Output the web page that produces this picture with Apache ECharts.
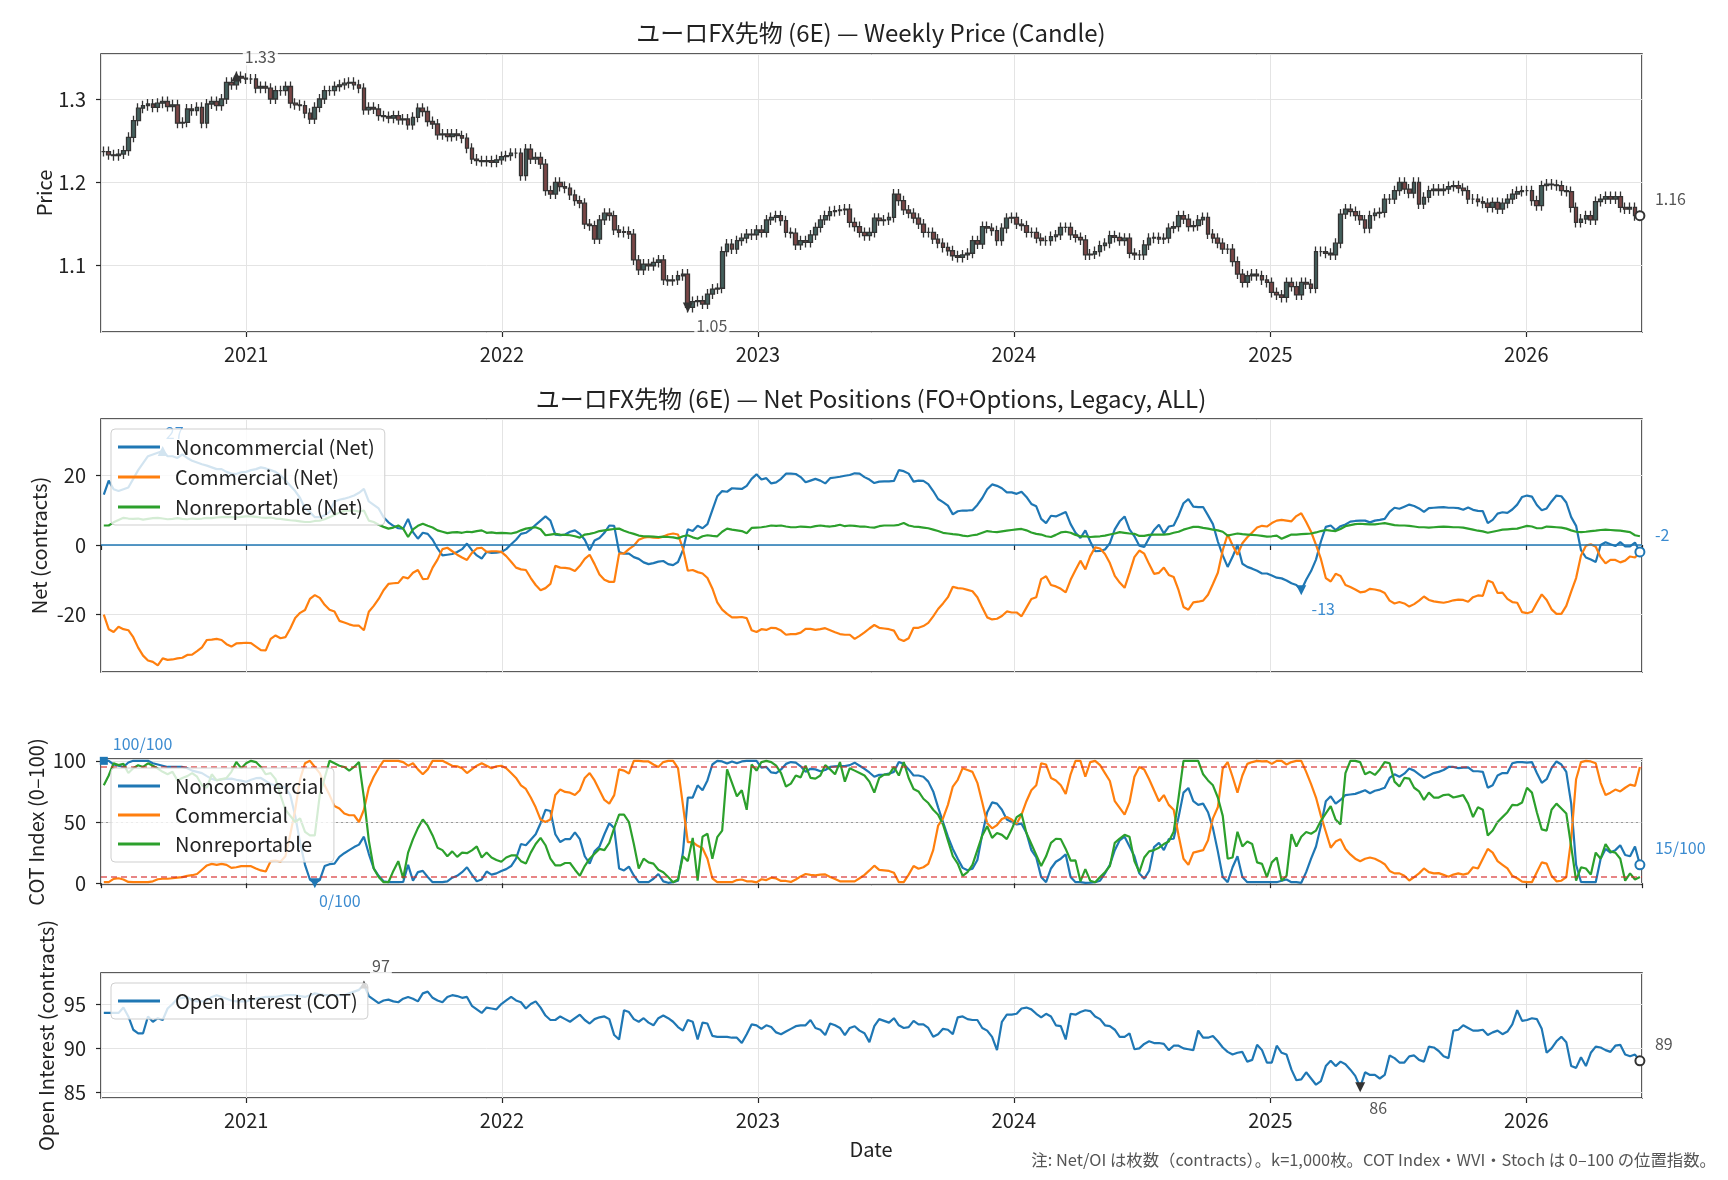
<!DOCTYPE html>
<html>
<head>
<meta charset="utf-8">
<title>ユーロFX先物 (6E)</title>
<script src="https://cdn.jsdelivr.net/npm/echarts@6/dist/echarts.min.js"></script>
<style>
  html, body { margin: 0; padding: 0; background: #fff; }
  #chart { width: 1728px; height: 1180px; }
</style>
</head>
<body>
<div id="chart"></div>
<script>
// weekly data, one value per week starting at firstWeek
const firstWeek = '2020-06-12'

const priceClose = [
  1.237, 1.233, 1.232, 1.234, 1.238, 1.254, 1.274, 1.289, 1.292, 1.294,
  1.290, 1.295, 1.297, 1.291, 1.293, 1.271, 1.272, 1.288, 1.286, 1.290,
  1.271, 1.294, 1.297, 1.292, 1.300, 1.320, 1.317, 1.327, 1.325, 1.324,
  1.324, 1.313, 1.315, 1.313, 1.300, 1.310, 1.310, 1.315, 1.295, 1.293,
  1.292, 1.283, 1.276, 1.290, 1.300, 1.310, 1.310, 1.315, 1.317, 1.319,
  1.320, 1.317, 1.313, 1.287, 1.290, 1.288, 1.280, 1.279, 1.277, 1.280,
  1.275, 1.276, 1.269, 1.278, 1.289, 1.285, 1.273, 1.270, 1.257, 1.258,
  1.255, 1.258, 1.256, 1.253, 1.241, 1.228, 1.226, 1.225, 1.226, 1.224,
  1.227, 1.231, 1.232, 1.235, 1.235, 1.208, 1.240, 1.228, 1.230, 1.222,
  1.190, 1.186, 1.200, 1.195, 1.193, 1.185, 1.178, 1.175, 1.150, 1.148,
  1.132, 1.155, 1.163, 1.160, 1.143, 1.140, 1.141, 1.138, 1.107, 1.095,
  1.102, 1.100, 1.104, 1.107, 1.083, 1.082, 1.083, 1.088, 1.090, 1.050,
  1.057, 1.058, 1.054, 1.066, 1.072, 1.073, 1.117, 1.126, 1.120, 1.130,
  1.133, 1.138, 1.137, 1.143, 1.140, 1.155, 1.158, 1.160, 1.154, 1.140,
  1.139, 1.125, 1.130, 1.128, 1.137, 1.146, 1.155, 1.160, 1.165, 1.166,
  1.167, 1.168, 1.152, 1.147, 1.140, 1.136, 1.140, 1.157, 1.154, 1.155,
  1.158, 1.186, 1.178, 1.167, 1.163, 1.157, 1.150, 1.140, 1.140, 1.132,
  1.127, 1.122, 1.118, 1.112, 1.110, 1.113, 1.115, 1.130, 1.126, 1.147,
  1.145, 1.142, 1.130, 1.145, 1.157, 1.158, 1.150, 1.148, 1.140, 1.140,
  1.133, 1.130, 1.130, 1.135, 1.137, 1.146, 1.146, 1.137, 1.134, 1.131,
  1.113, 1.114, 1.117, 1.124, 1.127, 1.136, 1.134, 1.130, 1.133, 1.115,
  1.113, 1.113, 1.125, 1.133, 1.134, 1.132, 1.133, 1.145, 1.147, 1.160,
  1.156, 1.147, 1.148, 1.155, 1.158, 1.138, 1.133, 1.127, 1.120, 1.120,
  1.105, 1.090, 1.080, 1.088, 1.090, 1.088, 1.083, 1.080, 1.068, 1.065,
  1.062, 1.080, 1.075, 1.065, 1.080, 1.078, 1.073, 1.117, 1.117, 1.115,
  1.113, 1.127, 1.162, 1.168, 1.165, 1.160, 1.155, 1.145, 1.160, 1.163,
  1.164, 1.180, 1.180, 1.190, 1.200, 1.192, 1.187, 1.200, 1.174, 1.182,
  1.190, 1.192, 1.190, 1.192, 1.195, 1.196, 1.193, 1.190, 1.180, 1.180,
  1.177, 1.175, 1.170, 1.176, 1.168, 1.175, 1.180, 1.186, 1.189, 1.190,
  1.190, 1.178, 1.172, 1.196, 1.198, 1.197, 1.196, 1.190, 1.189, 1.170,
  1.152, 1.156, 1.160, 1.155, 1.177, 1.180, 1.183, 1.180, 1.183, 1.170,
  1.168, 1.170, 1.160, 1.160
]

const netNoncommercial = [
  14.5, 18.5, 16, 15.5, 16, 16.5, 19, 21.5, 23.5, 25.5,
  26, 26.5, 27, 25.5, 25.5, 25, 26, 25, 24.2, 23.7,
  23.2, 22.8, 22.3, 21.8, 21.8, 21, 20.5, 20.4, 20.9, 21,
  21.5, 21.8, 22.3, 22, 21.5, 21, 20, 18.5, 17, 15.5,
  13.5, 10.5, 9.5, 8, 8, 8.5, 9.5, 12.5, 13, 13.3,
  13.7, 14.2, 15, 16.1, 12.5, 11.5, 10.5, 8, 6.5, 5.5,
  4.8, 4.7, 7.5, 3.7, 1.8, 3.5, 3.2, 1.5, -1, -3,
  -2.8, -2.6, -2, -1.2, 0.4, -1.5, -3, -3.9, -2, -2.3,
  -2.2, -2, -1.2, 0.2, 1.5, 3.2, 3.5, 4.5, 5.8, 7,
  8.2, 7, 3, 2.8, 3, 3.8, 4.2, 3.2, 1.5, -1.5,
  1.3, 2, 3.5, 5.6, 5.5, -2, -2.5, -2.5, -3.5, -4,
  -5, -5.5, -5.2, -4.8, -4.6, -5.5, -5.8, -4.9, -1.5, 4.5,
  4, 5.5, 4.8, 6, 10, 14, 15.5, 15.3, 16.3, 16.2,
  16.1, 17, 19, 20.3, 18.8, 19.2, 17.7, 18, 19, 20.5,
  20.5, 20.4, 19.5, 18, 18.5, 19, 18.5, 17.7, 19.2, 19.4,
  19.6, 19.9, 20.1, 20.6, 20.5, 19.5, 18.8, 17.8, 18.2, 18.3,
  18.3, 18.4, 21.5, 21.2, 20.5, 18.2, 18.5, 18.4, 17.5, 15.5,
  13.2, 12.3, 11.3, 8.8, 9.7, 9.9, 9.9, 10, 11.5, 13.5,
  16, 17.4, 17, 16.3, 15.1, 15.1, 14.7, 15.3, 13.8, 11.8,
  11.1, 7.5, 6.3, 8.4, 8.2, 8.8, 9.5, 6, 3.5, 2,
  4.2, 1, -1.8, -1.7, -1.3, 0.5, 4.5, 6.8, 8.2, 4.5,
  2.5, -0.2, -0.6, 2, 4.3, 5.8, 3.3, 5.3, 5.6, 8.5,
  12, 13.2, 11, 10.9, 10.9, 8.5, 6, 1, -3, -6.3,
  -3.4, 0, -5.4, -6.3, -6.8, -7.4, -8.2, -8.2, -8.8, -9.4,
  -9.6, -10.2, -11, -11.5, -13, -10, -7.5, -4.2, 1, 5.2,
  5.6, 4.3, 5.4, 5.9, 6.7, 6.9, 7, 7, 6.5, 7,
  7.2, 7.5, 9.5, 10.7, 10.4, 11, 11.6, 11.2, 10.5, 9.5,
  10.6, 10.7, 10.8, 10.9, 10.7, 10.7, 10.6, 10.1, 10.8, 10.1,
  9.8, 9.7, 6.3, 7.2, 9, 9.4, 9.2, 10.2, 11.6, 13.8,
  14.2, 13.9, 11.5, 10, 10.5, 12.5, 14.2, 14, 12.2, 8,
  5.5, -1.5, -3.6, -4.2, -4.9, 0, 0.8, 0.2, -0.3, 0.8,
  -0.4, -0.4, 0.7, -2
]

const netCommercial = [
  -20, -24.2, -25, -23.5, -24.2, -24.5, -26.5, -29.5, -31.8, -33.2,
  -33.6, -34.6, -32.6, -33, -32.9, -32.6, -32.4, -31.6, -31.5, -30.5,
  -29.4, -27.3, -27.2, -27, -27.3, -28.5, -29.2, -28.3, -28.2, -28.1,
  -28.2, -29.2, -30.2, -30.3, -27, -26, -26.8, -26.5, -24, -21,
  -19.5, -18.7, -15.5, -14.4, -15.2, -17.2, -18.6, -19.1, -21.8, -22.3,
  -22.8, -23.2, -23.2, -24.5, -19.2, -17.5, -15.5, -13, -11.2, -11,
  -10.9, -9.2, -9.6, -8, -7.2, -9.8, -9.7, -6.5, -4.2, -1.2,
  -0.8, -1.8, -2.8, -3.6, -4.3, -2.3, -1, -0.8, -2, -1.8,
  -1.8, -2, -3.2, -4.8, -6.5, -7, -7.2, -9.5, -11.5, -13,
  -12.4, -11.2, -6, -6.5, -6.6, -6.8, -7.5, -6, -4, -2.8,
  -5.5, -8.5, -10, -10.6, -10.6, -2.5, -2.4, -1.2, -0.2, 1.5,
  2.1, 2.3, 2.1, 2, 2.4, 3, 3.3, 3, -1, -7.4,
  -7.2, -7.8, -8.2, -9.5, -12.5, -16.5, -18.6, -19.8, -20.8, -20.8,
  -20.7, -21, -24.5, -25, -24.2, -24.4, -23.8, -23.9, -24.6, -25.8,
  -25.6, -25.6, -25.2, -24.1, -24.1, -24.4, -24.2, -23.9, -24.5, -25.1,
  -25.6, -25.8, -25.8, -27, -26.1, -25.1, -24, -23, -23.8, -24,
  -24.2, -24.6, -27, -27.6, -26.8, -23.8, -23.8, -23.3, -22.4, -20.5,
  -18.4, -16.8, -15, -12, -12.4, -12.5, -12.9, -13.3, -15, -18,
  -20.8, -21.4, -21.2, -20.4, -19.1, -19.4, -19.4, -20.5, -18, -15.5,
  -15, -9.8, -9, -11.5, -11.9, -12.6, -13.6, -10, -7.2, -4.5,
  -7, -3.2, -0.7, -1, -2.6, -5.2, -8.9, -10.8, -12.3, -8,
  -3.5, -1.6, -2.5, -5.5, -8.3, -8, -6.5, -8.6, -9.2, -13,
  -17.8, -18.6, -16.5, -16.3, -16, -14.3, -11.2, -8, -1.5, 3,
  -0.1, -2.8, 0.5, 2.2, 3.6, 5, 5.5, 5.3, 6.3, 7,
  7.2, 7, 6.8, 8.3, 9.1, 6.6, 3.8, 0, -4, -9.5,
  -10.5, -8.3, -8.9, -11.5, -12.1, -12.8, -13.6, -13.4, -12.6, -12.8,
  -13.1, -13.8, -16, -16.8, -16.4, -16.8, -17.7, -17, -16, -14.8,
  -15.8, -16.2, -16.4, -16.6, -16.3, -15.9, -15.7, -15.8, -16.3, -15,
  -14.5, -14.6, -10.2, -10.8, -13.8, -13.7, -15.5, -16.4, -16.6, -19.3,
  -19.6, -19.2, -16.6, -14.2, -15.8, -18.5, -19.8, -19.8, -17.5, -13.4,
  -9.5, -3, -0.2, 0.2, -0.5, -3.5, -5.3, -4.3, -4.3, -5,
  -4.5, -3.3, -3.6, -2
]

const netNonreportable = [
  5.6, 5.6, 6.5, 7.2, 7.8, 7.6, 7.5, 7.6, 7.3, 7.5,
  7.7, 7.8, 7.6, 7.4, 7.5, 7.7, 7.5, 7.4, 7.6, 7.5,
  7.6, 7.8, 7.7, 7.9, 8, 8.1, 8, 7.9, 8.1, 8.2,
  8.2, 8.1, 7.9, 7.8, 7.9, 7.6, 7.5, 7.3, 7.1, 7,
  6.8, 6.6, 6.6, 6.9, 7, 7.4, 8, 8.6, 9.3, 9.8,
  9.9, 9.9, 9.6, 9.9, 7, 6.6, 5.8, 5.2, 4.7, 5,
  5.6, 4.7, 2.3, 4.5, 5.5, 6.1, 5.5, 5, 4.2, 3.8,
  3.4, 3.6, 3.7, 3.5, 3.8, 3.7, 4, 4.2, 3.5, 3.6,
  3.4, 3.5, 3.4, 3.3, 3.6, 4.2, 4.7, 4.9, 5.1, 4.5,
  2.8, 3, 3.2, 3, 2.9, 2.8, 2.5, 2.1, 3, 3.2,
  3.5, 4, 4.2, 4.4, 4.6, 4.7, 4.1, 3.6, 3.2, 2.7,
  2.5, 2.5, 2.4, 2.3, 2.4, 2.3, 2.2, 1.9, 2.5, 2.8,
  2.2, 1.8, 2.5, 2.8, 2.6, 2.5, 3.8, 4.7, 4.4, 4.2,
  4, 3.4, 4.9, 5, 5.1, 5.3, 5.6, 5.5, 5.6, 5.3,
  5.1, 5.1, 5.3, 5.2, 5.1, 5.4, 5.6, 5.4, 5.3, 5.5,
  5.8, 5.4, 5.6, 5.5, 5.3, 5.3, 5.1, 5, 5.4, 5.6,
  5.6, 5.6, 5.8, 6.3, 5.6, 5.3, 5.2, 5, 4.8, 4.4,
  4, 3.5, 3.3, 3.1, 3, 2.7, 2.5, 2.8, 3, 3.5,
  4, 3.8, 3.7, 3.9, 4.1, 4.3, 4.5, 4.6, 4.2, 3.6,
  3.2, 3, 2.5, 2.3, 2.9, 3.6, 3.8, 3.5, 2.9, 2.5,
  2.5, 2.3, 2.4, 2.5, 2.7, 3, 3.3, 3.7, 3.5, 3.3,
  3.2, 2.6, 2.6, 2.9, 3, 3, 3, 3.1, 3.5, 3.8,
  4.4, 4.8, 5.2, 5.2, 4.9, 4.7, 4.4, 4.2, 3.8, 2.7,
  3, 3.3, 3.1, 3, 2.9, 2.8, 2.6, 2.4, 2.5, 2.7,
  1.8, 2.4, 3, 3, 3.1, 3.2, 3.3, 3.6, 4, 4.3,
  4.1, 4, 4.6, 5.4, 5.7, 6, 6.1, 6, 5.9, 5.9,
  6.1, 6.3, 6, 5.7, 5.6, 5.6, 5.5, 5.3, 5.1, 5.1,
  5, 5.1, 5.2, 5.3, 5.2, 5.1, 5.1, 5, 4.7, 4.4,
  4.1, 3.9, 3.5, 3.8, 4.1, 4.4, 4.5, 4.6, 4.7, 5.1,
  5.5, 5.3, 4.8, 4.8, 5.3, 5.2, 5.1, 5, 4.7, 4.2,
  3.8, 3.7, 3.8, 4, 4.1, 4.3, 4.4, 4.3, 4.2, 4.1,
  3.9, 3.7, 2.8, 2.5
]

const cotNoncommercial = [
  100, 100, 97, 96, 95, 98.6, 100, 100, 100, 100,
  98, 97, 96, 95, 95, 95, 95, 94, 92, 91,
  90, 87.5, 85.2, 84.2, 84.8, 85.2, 85.5, 84.5, 83.8, 82.8,
  84.5, 85.8, 86, 83.5, 81, 80, 79.5, 78, 72, 55,
  33, 15, 3, 0, 2.5, 14, 15.5, 16, 21.5, 24.5,
  27, 29.5, 31.5, 38, 24, 12, 6, 1.5, 0.8, 0.8,
  0.8, 1, 15, 2, 9, 10, 5, 0.8, 0.8, 0.8,
  1.5, 4.5, 6, 9, 13, 7, 1.5, 3, 9.5, 7,
  8, 10, 11.5, 14, 20, 32, 31, 35.5, 40, 49,
  60, 59, 40, 33.6, 36, 36, 41.5, 36, 22, 16,
  26, 30, 40, 49, 45, 12, 10.4, 13.5, 6.3, 0.8,
  0.8, 0.8, 3.6, 7.5, 1.5, 0.3, 0.8, 2, 25, 70,
  70, 80, 76, 84, 97, 100, 99.5, 97.8, 99.5, 98,
  99.5, 100, 100, 100, 94.5, 95, 90.5, 90, 93, 97.5,
  99, 98.5, 95.5, 91, 93.5, 93, 91.5, 92.5, 95, 95.5,
  95.7, 95.7, 96.5, 98.5, 96, 93.5, 90.5, 87, 88.5, 88.8,
  89.5, 91, 99, 97.5, 93, 88, 88, 87, 83, 75,
  62, 50, 38, 28, 20, 12.5, 10.5, 11.8, 19, 40,
  58, 66, 65, 60, 52, 50, 48, 48.6, 41, 27,
  21, 5, 0.8, 12, 17.5, 20, 23.5, 5, 0.8, 0.8,
  0.3, 0.5, 0.8, 2, 8, 15, 27, 35, 38, 30,
  22, 8, 3.6, 10, 29.5, 33, 27, 36, 36.3, 54,
  74, 77.8, 67, 64, 65, 58, 45, 26, 5, 0.8,
  13, 22, 5, 0.8, 0.8, 0.8, 0.8, 0.8, 0.8, 0.8,
  2, 3, 0.8, 0.8, 0.3, 9, 20, 30, 47, 67,
  71, 65, 68, 72, 72.5, 73, 74.4, 75.9, 73.5, 75.5,
  76.5, 78, 86, 89, 87, 89.5, 93.7, 92, 89, 86,
  88, 90, 91, 92.5, 95, 95, 94, 94.5, 94.7, 91.5,
  91.5, 91, 78, 80, 88, 90, 90, 98, 99, 99,
  98.5, 99, 90, 82, 85, 94, 99.5, 97, 91, 65,
  15, 1, 0.8, 0.8, 0.8, 20, 28, 25, 27, 31,
  23, 22, 30, 15
]

const cotCommercial = [
  0.8, 0.8, 3.5, 4, 3, 1, 0.8, 0.8, 0.8, 0.8,
  1.5, 3.2, 3.6, 3.6, 4, 4.5, 4.9, 6, 6.5, 7.5,
  11, 14.5, 15.8, 15, 15.8, 15, 12.5, 13, 13.9, 13.9,
  13.9, 12, 10.4, 9.5, 18, 18.5, 17.5, 22, 40, 60,
  85, 98, 100, 95, 90, 80, 72, 63, 61, 57,
  55.5, 55.5, 50, 60, 78, 87, 94, 100, 100, 100,
  100, 99, 96, 98, 93, 89, 93, 100, 100, 100,
  98, 96, 95.5, 94, 90, 93, 96, 98, 96, 94,
  95.5, 96, 94, 90, 86, 80, 77, 70, 62, 52,
  50, 52, 72, 76.5, 74.6, 74, 72, 76, 86, 90,
  84, 76, 68, 65, 72, 93, 92, 89.6, 100, 100,
  99.5, 99.5, 97, 95, 99, 100, 100, 94, 64, 33.6,
  33.6, 30.5, 28.5, 20, 4, 0.8, 0.8, 0.8, 0.8, 2.5,
  3, 1.5, 1.5, 0.6, 3.2, 2.5, 4.5, 3.8, 1.8, 1.8,
  1, 3, 5.5, 7.5, 6.8, 6.3, 7, 7.2, 5, 3.4,
  1.5, 1.5, 1.5, 1.5, 4, 6.8, 10.4, 14.3, 10.8, 10.4,
  10, 8.5, 0.8, 0.8, 7, 14, 11.8, 13, 15.8, 27,
  47, 53, 64, 79, 84.5, 94, 92.5, 91, 82, 66,
  49, 44.8, 47.5, 52.5, 54, 52, 48.5, 56, 67, 76,
  80, 98, 97, 86, 84, 80, 73, 89, 100, 100,
  87, 99, 100, 96.5, 90, 83.5, 67, 61.5, 56, 66,
  87, 95, 93, 85, 76, 67, 72, 64, 60, 39,
  20, 15, 25, 26, 27, 35, 53, 62, 93.7, 99,
  87, 74, 88, 97.5, 99, 100, 99.5, 99.8, 97.5, 100,
  100, 97, 99, 100, 100, 91, 81, 70, 55, 42,
  29, 34, 36, 28, 23.5, 20, 18, 20, 21, 20,
  18, 15.5, 10, 8, 8, 6, 2.2, 5, 8, 12,
  9, 8, 8.2, 6.8, 5.2, 7, 8, 7, 8, 13,
  12, 20, 28, 25, 18, 15, 12, 6, 4, 1.2,
  0.8, 0.8, 9, 17, 16, 6, 1.5, 2, 5, 36,
  85, 99, 100, 99.5, 98, 82, 72, 74, 76.5, 75,
  78, 80.5, 79.5, 95
]

const cotNonreportable = [
  80, 88, 98, 96.5, 97.5, 90, 94, 96.4, 95, 98,
  96, 93.7, 91, 89, 91, 84, 86, 87.5, 90, 87,
  80, 78, 89, 84, 85, 86, 91, 99, 94, 98,
  100, 99, 95, 89, 90, 85, 72, 60, 55, 50,
  53, 42, 39, 39, 72, 86, 100, 98, 96, 95,
  92, 95, 99, 70, 35, 12, 5, 0.8, 0.8, 10,
  18, 4, 25, 36, 45, 52, 47, 39, 29, 27,
  22, 26, 21.5, 25, 24.5, 26.8, 30, 21, 25, 21,
  19, 17.5, 21, 22.7, 22.7, 18, 16, 25, 32, 37,
  31, 20, 14.5, 14.5, 16.5, 16.5, 11, 6, 14, 20,
  24, 28, 27, 33, 45, 56, 56, 50, 32, 12,
  20, 17, 16, 11, 9, 5, 0.8, 3, 22, 18,
  37, 2, 38, 40.4, 20, 37.6, 43, 93, 82, 71,
  76, 60, 97, 92, 99, 100, 99, 96, 90, 79,
  81.4, 88, 86.5, 96, 86, 85.5, 88, 96.5, 93, 89,
  99, 83, 94, 92, 90, 88, 83, 74, 86, 88.8,
  88.8, 95, 88, 99, 86, 77, 75, 69, 65.5, 60,
  56, 48, 35, 22, 16, 6, 9, 15, 27, 39,
  46.5, 37, 41, 39.5, 36, 44, 54, 56.5, 41, 32,
  23, 14, 22, 33, 36.3, 36, 28, 18.5, 18.6, 1.5,
  11.5, 2, 0.8, 5, 9, 14, 33, 36.5, 39.5, 38,
  18, 9, 21, 26, 27, 29, 32, 34, 42, 70,
  100, 100, 100, 100, 89, 84, 80, 70, 55, 20,
  21, 42, 30, 34, 32, 17, 15.8, 5, 17, 21,
  2, 6, 40, 30, 38, 41.8, 40.4, 43, 51, 57,
  63, 52, 48, 90, 100, 100, 99, 89, 91, 88.5,
  93, 99, 98, 83, 79, 86, 85.5, 78, 75, 68,
  74, 70, 70, 72, 72.5, 70, 71, 72, 65, 54,
  62, 60, 39, 43, 50, 54, 58, 64, 63.7, 66,
  78, 74, 58, 44, 43, 60, 65, 61, 57, 30,
  2, 13, 12, 7, 25, 20, 32, 26, 25, 20,
  2, 8, 3, 5
]

const openInterest = [
  94, 94, 94, 94, 94.6, 93.6, 92.1, 91.7, 91.7, 93.6,
  93, 93.4, 93.2, 94.5, 95, 95.6, 95.7, 95.8, 95.4, 95.3,
  95.3, 95.4, 95.8, 96, 95.8, 95.6, 95.4, 95.3, 95.3, 95.3,
  95.5, 95.6, 95.7, 95.8, 95.8, 95.8, 95.9, 96, 96, 96,
  95.9, 95.8, 96, 96.2, 96.1, 96, 96, 96, 96, 96,
  96.2, 96.4, 96.6, 97.2, 95.9, 95.5, 95.1, 95.4, 95.5, 95.3,
  95.2, 95.6, 95.8, 95.6, 95.3, 96.2, 96.4, 95.7, 95.4, 95.2,
  95.8, 96, 95.9, 95.7, 95.8, 94.8, 94.4, 94, 94.6, 94.5,
  94.4, 95, 95.4, 95.8, 95.4, 95.2, 94.5, 95, 95.3, 94.6,
  93.7, 93.2, 93.2, 93.6, 93.3, 93, 93.4, 93.8, 93.2, 92.8,
  93.3, 93.5, 93.6, 93.3, 91.5, 91, 94.3, 94.1, 93.3, 93,
  93.4, 92.9, 92.6, 93.4, 93.7, 93.4, 93, 92.4, 92, 93.2,
  93, 91, 92.9, 92.8, 91.4, 91.3, 91.3, 91.3, 91.2, 91.2,
  90.6, 91.6, 92.7, 92.6, 92.2, 92.6, 92.4, 91.8, 91.6, 91.9,
  92.2, 92.5, 92.6, 92.6, 93.2, 92.3, 92.1, 91.5, 92.8, 92.6,
  92.3, 91.5, 92.3, 92.5, 92, 91.7, 90.7, 92.5, 93.3, 93.1,
  92.9, 93.4, 92.6, 92.3, 92.4, 93.1, 92.7, 92.7, 92.3, 91.3,
  91.6, 92.2, 92.1, 91.6, 93.5, 93.6, 93.3, 93.2, 93.2, 92.3,
  92, 91.3, 89.8, 93, 93.8, 93.8, 93.9, 94.5, 94.6, 94.4,
  93.9, 93.5, 93.9, 93.6, 92.6, 92.5, 91, 93.9, 93.8, 94.1,
  94.3, 94.2, 93.6, 93.3, 92.6, 92.5, 92.1, 91.3, 91.3, 91.7,
  89.9, 90, 90.5, 90.8, 90.6, 90.6, 90.5, 89.8, 90.3, 90.3,
  90, 89.9, 89.8, 92, 91.2, 91.2, 91.4, 90.8, 90.1, 89.6,
  89.3, 89.5, 89.6, 88.5, 88.7, 90.4, 89.8, 88.4, 88.4, 90.3,
  89.5, 89.3, 87.6, 86.4, 86.5, 87.3, 86.6, 85.9, 86.3, 88,
  88.6, 88, 88.5, 88.2, 87.6, 86.9, 85.6, 87.3, 87, 87,
  86.6, 87, 89.2, 88.9, 88.4, 88.4, 89.1, 89.2, 88.7, 88.5,
  90.2, 90.1, 89.7, 89.1, 88.9, 92, 92.1, 92.6, 92.3, 92,
  92, 92.1, 91.5, 91.8, 92, 91.6, 91.9, 92.7, 94.3, 93.1,
  93.2, 93.4, 93.3, 92.2, 89.5, 90, 90.8, 91.3, 90.7, 88,
  87.8, 89, 88, 89.5, 90.2, 90.1, 89.8, 89.6, 90.3, 90.4,
  89.3, 89.1, 89.3, 88.6
]

const footnote = '注: Net/OI は枚数（contracts）。k=1,000枚。COT Index・WVI・Stoch は 0–100 の位置指数。'

const series8 = [priceClose, netNoncommercial, netCommercial, netNonreportable,
  cotNoncommercial, cotCommercial, cotNonreportable, openInterest]
series8.forEach((a, k) => {
  if (a.length !== priceClose.length) throw new Error('length mismatch in array ' + k + ': ' + a.length)
})

const FONT = '"Noto Sans CJK JP", "Noto Sans", sans-serif'
const BLUE = '#1f77b4', ORANGE = '#ff7f0e', GREEN = '#2ca02c'
const DAY = 86400000
const t0 = Date.parse(firstWeek + 'T00:00:00Z')
const weeks = priceClose.map((_, i) => t0 + i * 7 * DAY)
const xMin = Date.UTC(2020, 5, 8), xMax = Date.UTC(2026, 5, 15)

const pairs = arr => weeks.map((t, i) => [t, arr[i]])

// candles: open is the previous week's close
const wick = 0.006
const candles = priceClose.map((c, i) => {
  const o = i === 0 ? c : priceClose[i - 1]
  return [weeks[i], o, c, Math.min(o, c) - wick, Math.max(o, c) + wick]
})

function argExt(arr, useMax) {
  let k = 0
  arr.forEach((v, i) => { if (useMax ? v > arr[k] : v < arr[k]) k = i })
  return k
}

function tag(arr, i, text, opt) {
  return {
    coord: [weeks[i], arr[i]],
    symbol: opt.symbol || 'triangle',
    symbolSize: opt.size || 10,
    symbolRotate: opt.rotate || 0,
    itemStyle: Object.assign({ color: opt.color }, opt.item || {}),
    label: {
      show: true, position: 'inside', formatter: text,
      offset: opt.offset, align: opt.align || 'center', verticalAlign: 'middle',
      color: opt.textColor, fontSize: 16, fontFamily: FONT,
      backgroundColor: opt.bg || 'transparent', padding: [1, 2]
    }
  }
}

function lastTag(arr, text, color, textColor) {
  const i = arr.length - 1
  return tag(arr, i, text, {
    symbol: 'emptyCircle', size: 9, color: color,
    item: { borderColor: color, borderWidth: 1.8 },
    offset: [13, -17], align: 'left', textColor: textColor
  })
}

const iMaxP = argExt(priceClose, true), iMinP = argExt(priceClose, false)
const iMaxN = argExt(netNoncommercial, true), iMinN = argExt(netNoncommercial, false)
const iMaxC = argExt(cotNoncommercial, true), iMinC = argExt(cotNoncommercial, false)
const iMaxO = argExt(openInterest, true), iMinO = argExt(openInterest, false)

const grids = [
  { top: 54, height: 278 },
  { top: 419, height: 253 },
  { top: 759, height: 126 },
  { top: 973, height: 125 }
].map(g => Object.assign({
  left: 101, right: 86, show: true, borderColor: '#262626', borderWidth: 1.5,
  backgroundColor: 'transparent'
}, g))

function xAxisFor(i, showLabel) {
  return {
    type: 'time', gridIndex: i, min: xMin, max: xMax,
    splitNumber: 6, minInterval: 365 * DAY, maxInterval: 366 * DAY,
    axisLine: { show: false },
    axisTick: { show: true, length: 5, lineStyle: { color: '#262626', width: 1.2 } },
    axisLabel: {
      show: showLabel, formatter: '{yyyy}', fontSize: 20, color: '#222', margin: 12,
      fontFamily: FONT, showMinLabel: false, showMaxLabel: false
    },
    splitLine: { show: true, lineStyle: { color: '#e4e4e4', width: 1 } }
  }
}

function yAxisFor(i, name, min, max, split, gap) {
  return {
    type: 'value', gridIndex: i, min: min, max: max, splitNumber: split,
    name: name, nameLocation: 'middle', nameRotate: 90, nameGap: gap,
    nameMoveOverlap: false,
    nameTextStyle: { fontSize: 20, color: '#222', fontFamily: FONT },
    axisLine: { show: false },
    axisTick: { show: true, length: 5, lineStyle: { color: '#262626', width: 1.2 } },
    axisLabel: {
      fontSize: 20, color: '#222', margin: 15, fontFamily: FONT,
      showMinLabel: false, showMaxLabel: false
    },
    splitLine: { show: true, lineStyle: { color: '#e4e4e4', width: 1 } }
  }
}

function lineSeries(name, arr, color, gi, extra) {
  return Object.assign({
    name: name, type: 'line', xAxisIndex: gi, yAxisIndex: gi,
    data: pairs(arr), showSymbol: false, symbol: 'none',
    lineStyle: { color: color, width: 2.2 }, itemStyle: { color: color },
    animation: false
  }, extra || {})
}

function legendAt(top, names, gap, padTop) {
  return {
    z: 10,
    orient: 'vertical', left: 111, top: top, data: names,
    icon: 'rect', itemWidth: 42, itemHeight: 3, itemGap: gap,
    padding: [padTop, 10, padTop, 7],
    backgroundColor: 'rgba(255,255,255,0.8)', borderColor: '#cfcfcf', borderWidth: 1, borderRadius: 4,
    textStyle: { fontSize: 20, color: '#222', fontFamily: FONT, lineHeight: 20, padding: [0, 0, 0, 10] },
    selectedMode: false
  }
}

const gray = '#333', grayText = '#555', blueText = '#3b8bd0'

const option = {
  animation: false,
  backgroundColor: '#ffffff',
  textStyle: { fontFamily: FONT },
  grid: grids,
  xAxis: [xAxisFor(0, true), xAxisFor(1, false), xAxisFor(2, false), xAxisFor(3, true)],
  yAxis: [
    yAxisFor(0, 'Price', 1.0205, 1.354, 3, 47),
    yAxisFor(1, 'Net (contracts)', -36.5, 36.2, 3, 52),
    yAxisFor(2, 'COT Index (0–100)', -1.5, 101.5, 2, 55),
    yAxisFor(3, 'Open Interest (contracts)', 84.4, 98.5, 3, 45)
  ],
  legend: [
    legendAt(429, ['Noncommercial (Net)', 'Commercial (Net)', 'Nonreportable (Net)'], 10, 8),
    legendAt(768, ['Noncommercial', 'Commercial', 'Nonreportable'], 9, 8),
    legendAt(983, ['Open Interest (COT)'], 10, 8)
  ],
  series: [
    {
      name: 'Price', type: 'candlestick', xAxisIndex: 0, yAxisIndex: 0,
      dimensions: ['date', 'open', 'close', 'lowest', 'highest'],
      encode: { x: 0, y: [1, 2, 3, 4] },
      data: candles, barWidth: 4.2,
      itemStyle: {
        color: '#44605d', color0: '#7a4646',
        borderColor: '#333', borderColor0: '#333', borderWidth: 1.3
      },
      markPoint: {
        silent: true,
        data: [
          tag(priceClose, iMaxP, priceClose[iMaxP].toFixed(2), {
            color: gray, offset: [24, -20], textColor: grayText, bg: 'rgba(255,255,255,0.85)'
          }),
          tag(priceClose, iMinP, priceClose[iMinP].toFixed(2), {
            color: gray, rotate: 180, offset: [24, 19], textColor: grayText, bg: 'rgba(255,255,255,0.85)'
          }),
          lastTag(priceClose, priceClose[priceClose.length - 1].toFixed(2), gray, grayText)
        ]
      }
    },
    lineSeries('Noncommercial (Net)', netNoncommercial, BLUE, 1, {
      markLine: {
        silent: true, symbol: 'none', label: { show: false },
        lineStyle: { color: BLUE, width: 1.5, type: 'solid' },
        data: [{ yAxis: 0 }]
      },
      markPoint: {
        silent: true,
        data: [
          tag(netNoncommercial, iMaxN, String(Math.round(netNoncommercial[iMaxN])), {
            color: BLUE, offset: [12, -18], textColor: blueText
          }),
          tag(netNoncommercial, iMinN, String(Math.round(netNoncommercial[iMinN])), {
            color: BLUE, rotate: 180, offset: [22, 19], textColor: blueText
          }),
          lastTag(netNoncommercial, String(Math.round(netNoncommercial[netNoncommercial.length - 1])), BLUE, blueText)
        ]
      }
    }),
    lineSeries('Commercial (Net)', netCommercial, ORANGE, 1),
    lineSeries('Nonreportable (Net)', netNonreportable, GREEN, 1),
    lineSeries('Noncommercial', cotNoncommercial, BLUE, 2, {
      markLine: {
        silent: true, symbol: 'none', label: { show: false },
        data: [
          { yAxis: 95, lineStyle: { color: '#d62728', width: 1.5, type: [6, 4], opacity: 0.75 } },
          { yAxis: 5, lineStyle: { color: '#d62728', width: 1.5, type: [6, 4], opacity: 0.75 } },
          { yAxis: 50, lineStyle: { color: '#999999', width: 1.2, type: [2, 3] } }
        ]
      },
      markPoint: {
        silent: true,
        data: [
          tag(cotNoncommercial, iMaxC, Math.round(cotNoncommercial[iMaxC]) + '/100', {
            symbol: 'rect', size: 8, color: BLUE, offset: [7, -17], align: 'left', textColor: blueText
          }),
          tag(cotNoncommercial, iMinC, Math.round(cotNoncommercial[iMinC]) + '/100', {
            color: BLUE, rotate: 180, offset: [25, 18], textColor: blueText
          }),
          lastTag(cotNoncommercial, Math.round(cotNoncommercial[cotNoncommercial.length - 1]) + '/100', BLUE, blueText)
        ]
      }
    }),
    lineSeries('Commercial', cotCommercial, ORANGE, 2),
    lineSeries('Nonreportable', cotNonreportable, GREEN, 2),
    lineSeries('Open Interest (COT)', openInterest, BLUE, 3, {
      markPoint: {
        silent: true,
        data: [
          tag(openInterest, iMaxO, String(Math.round(openInterest[iMaxO])), {
            color: gray, size: 8, offset: [17, -19], textColor: grayText, bg: 'rgba(255,255,255,0.85)'
          }),
          tag(openInterest, iMinO, String(Math.round(openInterest[iMinO])), {
            color: gray, size: 10, rotate: 180, offset: [18, 21], textColor: grayText, bg: 'rgba(255,255,255,0.85)'
          }),
          lastTag(openInterest, String(Math.round(openInterest[openInterest.length - 1])), gray, grayText)
        ]
      }
    })
  ],
  graphic: [
    {
      type: 'text', x: 871, y: 33, silent: true,
      style: { text: 'ユーロFX先物 (6E) — Weekly Price (Candle)', fill: '#222', font: '24px ' + FONT, align: 'center', verticalAlign: 'middle' }
    },
    {
      type: 'text', x: 871, y: 399, silent: true,
      style: { text: 'ユーロFX先物 (6E) — Net Positions (FO+Options, Legacy, ALL)', fill: '#222', font: '24px ' + FONT, align: 'center', verticalAlign: 'middle' }
    },
    {
      type: 'text', x: 871, y: 1149, silent: true,
      style: { text: 'Date', fill: '#222', font: '20px ' + FONT, align: 'center', verticalAlign: 'middle' }
    },
    {
      type: 'text', x: 1716, y: 1160, silent: true,
      style: { text: footnote, fill: '#555', font: '16.4px ' + FONT, align: 'right', verticalAlign: 'middle' }
    }
  ]
}

const chart = echarts.init(document.getElementById('chart'), null, { renderer: 'canvas' })
chart.setOption(option)
window.addEventListener('resize', () => chart.resize())
</script>
</body>
</html>
